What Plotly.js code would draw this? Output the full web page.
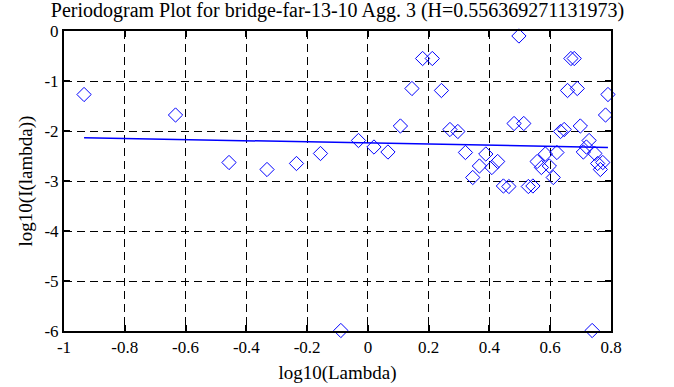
<!DOCTYPE html>
<html>
<head>
<meta charset="utf-8">
<script src="https://cdn.plot.ly/plotly-3.0.1.min.js"></script>
<style>html,body{margin:0;padding:0;background:#fff;}#chart{width:674px;height:387px;}</style>
</head>
<body>
<div id="chart"></div>
<script>
// log10(Lambda) values
const logLambda = [-0.934,-0.633,-0.457,-0.332,-0.235,-0.156,-0.089,-0.031,0.020,0.066,
  0.107,0.145,0.180,0.212,0.242,0.270,0.296,0.321,0.345,0.367,
  0.388,0.408,0.427,0.446,0.464,0.481,0.497,0.513,0.528,0.543,
  0.557,0.571,0.584,0.597,0.610,0.622,0.634,0.646,0.657,0.668,
  0.679,0.689,0.699,0.709,0.719,0.728,0.738,0.747,0.756,0.765,
  0.773,0.782,0.790];
// log10(I(lambda)) values
const logI = [-1.27,-1.68,-2.63,-2.77,-2.65,-2.45,-5.99,-2.19,-2.32,-2.42,
  -1.90,-1.15,-0.55,-0.55,-1.19,-1.97,-2.01,-2.43,-2.93,-2.70,
  -2.46,-2.73,-2.61,-3.10,-3.11,-1.85,-0.10,-1.85,-3.11,-3.10,
  -2.61,-2.73,-2.46,-2.70,-2.93,-2.43,-2.01,-1.97,-1.19,-0.55,
  -0.55,-1.15,-1.90,-2.42,-2.32,-2.19,-5.99,-2.45,-2.65,-2.77,
  -2.63,-1.68,-1.27];
// fitted line end points
const fitX = [-0.934, 0.790];
const fitY = [-2.134, -2.328];

const xTickVals = [-1,-0.8,-0.6,-0.4,-0.2,0,0.2,0.4,0.6,0.8];
const xTickText = ["-1","-0.8","-0.6","-0.4","-0.2","0","0.2","0.4","0.6","0.8"];
const yTickVals = [-6,-5,-4,-3,-2,-1,0];
const yTickText = ["-6","-5","-4","-3","-2","-1","0"];

const fam = '"Liberation Serif", "DejaVu Serif", serif';
const font = {family: fam, size: 17, color: '#000'};
const titleFont = {family: fam, size: 19, color: '#000'};

const traces = [
  {x: logLambda, y: logI, type: 'scatter', mode: 'markers',
   marker: {symbol: 'diamond-open', size: 11, color: '#0000ff', line: {width: 1, color: '#0000ff'}},
   hoverinfo: 'skip', cliponaxis: false},
  {x: fitX, y: fitY, type: 'scatter', mode: 'lines',
   line: {color: '#0000ff', width: 1.5}, hoverinfo: 'skip'}
];

const axisCommon = {
  showline: true, linecolor: '#000', linewidth: 2, mirror: 'ticks',
  ticks: 'inside', ticklen: 6, tickwidth: 2, tickcolor: '#000',
  showgrid: true, gridcolor: '#000', gridwidth: 1, griddash: '8px,5px',
  zeroline: false, tickfont: font, tickmode: 'array'
};

const layout = {
  width: 674, height: 387,
  margin: {l: 64, r: 63, t: 31, b: 56},
  paper_bgcolor: '#fff', plot_bgcolor: '#fff',
  showlegend: false,
  font: font,
  title: {text: 'Periodogram Plot for bridge-far-13-10 Agg. 3 (H=0.556369271131973)',
          font: {family: fam, size: 20, color: '#000'},
          x: 0.5, xref: 'paper', xanchor: 'center', y: 0.975, yanchor: 'middle'},
  xaxis: Object.assign({}, axisCommon, {
    range: [-1, 0.8], tickvals: xTickVals, ticktext: xTickText,
    title: {text: 'log10(Lambda)', font: titleFont, standoff: 9}
  }),
  yaxis: Object.assign({}, axisCommon, {
    range: [-6, 0], tickvals: yTickVals, ticktext: yTickText,
    title: {text: 'log10(I(lambda))', font: titleFont, standoff: 7}
  })
};

Plotly.newPlot('chart', traces, layout, {staticPlot: true, displayModeBar: false});
</script>
</body>
</html>
